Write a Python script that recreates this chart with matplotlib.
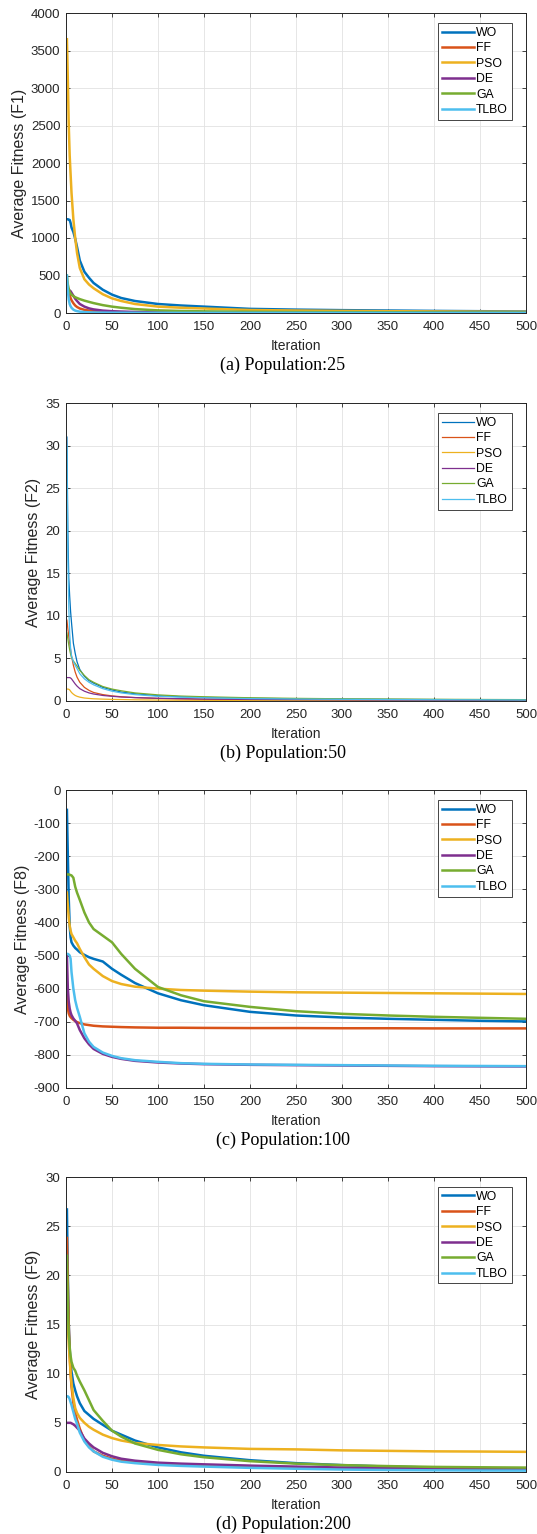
import numpy as np
import matplotlib
matplotlib.use("Agg")
import matplotlib.pyplot as plt

plt.rcParams['font.family'] = ['Liberation Sans', 'DejaVu Sans']
plt.rcParams['axes.unicode_minus'] = False

names = ['WO', 'FF', 'PSO', 'DE', 'GA', 'TLBO']
colors = ['#0072BD', '#D95319', '#EDB120', '#7E2F8E', '#77AC30', '#4DBEEE']

# iterations at which the average fitness was recorded
it = [1, 2, 3, 4, 5, 6, 8, 10, 12, 15, 20, 25, 30, 40, 50, 60, 75, 100,
      125, 150, 200, 250, 300, 350, 400, 450, 500]

# F1, population 25
f1_wo = [1250, 1250, 1245, 1240, 1200, 1140, 1080, 990, 880, 700, 550, 470, 400, 310, 245, 200, 160, 120,
         100, 85, 55, 45, 38, 33, 28, 24, 20]
f1_ff = [400, 330, 280, 240, 200, 170, 130, 100, 80, 60, 42, 32, 26, 18, 14, 11, 9, 7,
         6, 5, 4, 3.5, 3, 2.7, 2.4, 2.2, 2]
f1_pso = [3650, 3100, 2500, 2100, 1850, 1600, 1250, 1000, 800, 600, 450, 380, 330, 250, 195, 160, 120, 85,
          70, 60, 40, 33, 28, 24, 21, 18, 16]
f1_de = [350, 330, 310, 300, 290, 270, 230, 190, 160, 120, 85, 62, 48, 32, 24, 19, 14, 10,
         8, 7, 5, 4, 3.5, 3.2, 3, 2.7, 2.5]
f1_ga = [500, 380, 320, 280, 260, 245, 225, 210, 200, 185, 165, 148, 132, 105, 85, 70, 52, 35,
         27, 22, 16, 13, 11, 10, 9, 8, 7]
f1_tlbo = [500, 300, 180, 120, 90, 70, 45, 32, 25, 18, 12, 9, 7, 5, 4, 3.5, 3, 2.5,
           2.2, 2, 1.7, 1.5, 1.3, 1.2, 1.1, 1.05, 1]

# F2, population 50
f2_wo = [31, 20, 14.5, 12.3, 10.5, 9.2, 6.8, 5.6, 4.6, 3.7, 2.9, 2.4, 2.1, 1.6, 1.3, 1.05, 0.85, 0.62,
         0.5, 0.42, 0.32, 0.26, 0.22, 0.19, 0.17, 0.15, 0.14]
f2_ff = [9.5, 8.5, 7.6, 6.8, 6.0, 5.3, 4.2, 3.4, 2.8, 2.2, 1.6, 1.25, 1.0, 0.75, 0.6, 0.5, 0.4, 0.3,
         0.25, 0.2, 0.15, 0.12, 0.1, 0.09, 0.08, 0.07, 0.06]
f2_pso = [1.4, 1.4, 1.38, 1.3, 1.15, 1.0, 0.8, 0.65, 0.55, 0.45, 0.35, 0.3, 0.26, 0.22, 0.19, 0.17, 0.14, 0.11,
          0.09, 0.08, 0.06, 0.05, 0.045, 0.04, 0.035, 0.032, 0.03]
f2_de = [2.75, 2.75, 2.75, 2.75, 2.7, 2.6, 2.3, 2.0, 1.75, 1.45, 1.15, 0.95, 0.82, 0.65, 0.55, 0.47, 0.4, 0.32,
         0.27, 0.23, 0.18, 0.15, 0.13, 0.11, 0.1, 0.09, 0.08]
f2_ga = [8.0, 7.3, 6.6, 6.0, 5.5, 5.1, 4.7, 4.4, 4.1, 3.6, 3.0, 2.5, 2.2, 1.7, 1.4, 1.2, 0.95, 0.72,
         0.58, 0.5, 0.38, 0.31, 0.26, 0.23, 0.2, 0.18, 0.16]
f2_tlbo = [30, 17, 11, 8, 6.2, 5.3, 4.6, 4.2, 3.8, 3.2, 2.6, 2.2, 1.9, 1.45, 1.15, 0.95, 0.75, 0.55,
           0.45, 0.38, 0.28, 0.23, 0.2, 0.17, 0.15, 0.14, 0.12]

# F8, population 100
f8_wo = [-60, -200, -330, -410, -445, -460, -470, -477, -482, -490, -498, -505, -510, -518, -540, -558, -583, -614,
         -635, -650, -670, -681, -687, -691, -694, -697, -699]
f8_ff = [-620, -660, -675, -682, -686, -689, -694, -698, -701, -704, -708, -710, -712, -714, -715, -716, -717, -718,
         -718, -718.5, -719, -719, -719.5, -719.5, -720, -720, -720]
f8_pso = [-310, -350, -385, -410, -425, -435, -445, -455, -463, -480, -505, -527, -540, -562, -577, -586, -594, -600,
          -604, -606, -609, -611, -612, -613, -614, -615, -616]
f8_de = [-500, -600, -640, -660, -672, -680, -690, -697, -705, -725, -750, -768, -782, -797, -806, -812, -818, -823,
         -826, -828, -830, -831, -832, -833, -834, -834.5, -835]
f8_ga = [-255, -255, -255, -256, -257, -258, -265, -292, -310, -332, -370, -400, -420, -440, -460, -495, -540, -595,
         -620, -638, -655, -668, -676, -681, -685, -688, -691]
f8_tlbo = [-495, -495, -497, -500, -510, -550, -600, -635, -658, -685, -735, -760, -776, -793, -803, -810, -816, -821,
           -825, -827, -829, -830, -831, -832, -833, -833.5, -834]

# F9, population 200
f9_wo = [26.7, 20, 15, 12.5, 11, 10.2, 9.0, 8.3, 7.7, 7.0, 6.2, 5.8, 5.4, 4.8, 4.2, 3.8, 3.2, 2.5,
         2.0, 1.65, 1.2, 0.9, 0.7, 0.55, 0.45, 0.4, 0.35]
f9_ff = [23.8, 19, 15, 12, 10, 8.7, 7.0, 6.0, 5.3, 4.4, 3.2, 2.6, 2.1, 1.65, 1.35, 1.15, 1.0, 0.85,
         0.75, 0.68, 0.55, 0.45, 0.38, 0.33, 0.3, 0.27, 0.25]
f9_pso = [18, 15, 13, 11.5, 10, 9, 7.5, 6.5, 6.0, 5.5, 5.0, 4.6, 4.3, 3.8, 3.45, 3.2, 2.95, 2.75,
          2.6, 2.5, 2.35, 2.3, 2.2, 2.15, 2.1, 2.08, 2.05]
f9_de = [5.0, 5.0, 5.0, 5.0, 5.0, 4.95, 4.85, 4.7, 4.5, 4.2, 3.4, 2.9, 2.5, 1.95, 1.6, 1.35, 1.15, 0.95,
         0.85, 0.78, 0.65, 0.55, 0.45, 0.38, 0.33, 0.3, 0.27]
f9_ga = [22, 17, 14, 12.7, 11.8, 11.2, 10.6, 10.3, 9.8, 9.2, 8.3, 7.3, 6.3, 5.2, 4.2, 3.6, 2.9, 2.25,
         1.8, 1.5, 1.1, 0.85, 0.7, 0.6, 0.52, 0.48, 0.45]
f9_tlbo = [7.7, 7.7, 7.6, 7.4, 7.1, 6.8, 6.1, 5.4, 4.9, 4.0, 3.1, 2.5, 2.1, 1.55, 1.25, 1.05, 0.9, 0.72,
           0.62, 0.55, 0.42, 0.33, 0.25, 0.2, 0.17, 0.15, 0.14]

panels = [
    ([f1_wo, f1_ff, f1_pso, f1_de, f1_ga, f1_tlbo], 'Average Fitness (F1)', (0, 4000, 500), '(a) Population:25', 1.8),
    ([f2_wo, f2_ff, f2_pso, f2_de, f2_ga, f2_tlbo], 'Average Fitness (F2)', (0, 35, 5), '(b) Population:50', 0.9),
    ([f8_wo, f8_ff, f8_pso, f8_de, f8_ga, f8_tlbo], 'Average Fitness (F8)', (-900, 0, 100), '(c) Population:100', 1.8),
    ([f9_wo, f9_ff, f9_pso, f9_de, f9_ga, f9_tlbo], 'Average Fitness (F9)', (0, 30, 5), '(d) Population:200', 1.8),
]

W, H = 537, 1534
fig = plt.figure(figsize=(W / 100, H / 100), dpi=100)
fig.patch.set_facecolor('white')

tops = [13, 403, 790, 1177]
bottoms = [313, 701, 1088, 1472]
left, right = 66, 526

for (series, ylabel, (ylo, yhi, ystep), caption, lw), top, bot in zip(panels, tops, bottoms):
    ax = fig.add_axes([left / W, 1 - bot / H, (right - left) / W, (bot - top) / H])
    for y, name, c in zip(series, names, colors):
        ax.plot(it, y, color=c, lw=lw, label=name)
    ax.set_xlim(0, 500)
    ax.set_ylim(ylo, yhi)
    ax.set_xticks(np.arange(0, 501, 50))
    ax.set_yticks(np.arange(ylo, yhi + ystep / 2, ystep))
    ax.grid(True, color='#e2e2e2', lw=0.6)
    ax.set_axisbelow(True)
    ax.tick_params(direction='in', top=True, right=True, length=3, width=0.6,
                   labelsize=9.5, colors='#262626', pad=4)
    ax.tick_params(axis='x', pad=6)
    for s in ax.spines.values():
        s.set_color('#262626')
        s.set_linewidth(0.7)
    ax.set_ylabel(ylabel, fontsize=11.5, color='#262626', labelpad=3)
    ax.set_xlabel('Iteration', fontsize=10, color='#262626', labelpad=4)
    leg = ax.legend(loc='upper right', bbox_to_anchor=(0.969, 0.966), borderaxespad=0,
                    fontsize=8.8, fancybox=False, framealpha=1, edgecolor='#262626',
                    handlelength=2.6, handletextpad=0.2, labelspacing=0.28,
                    borderpad=0.3)
    leg.get_frame().set_linewidth(0.6)
    fig.text(283 / W, 1 - (bot + 52) / H, caption, ha='center', va='center',
             fontsize=13, family='Liberation Serif')

fig.savefig('out.png', dpi=100)
